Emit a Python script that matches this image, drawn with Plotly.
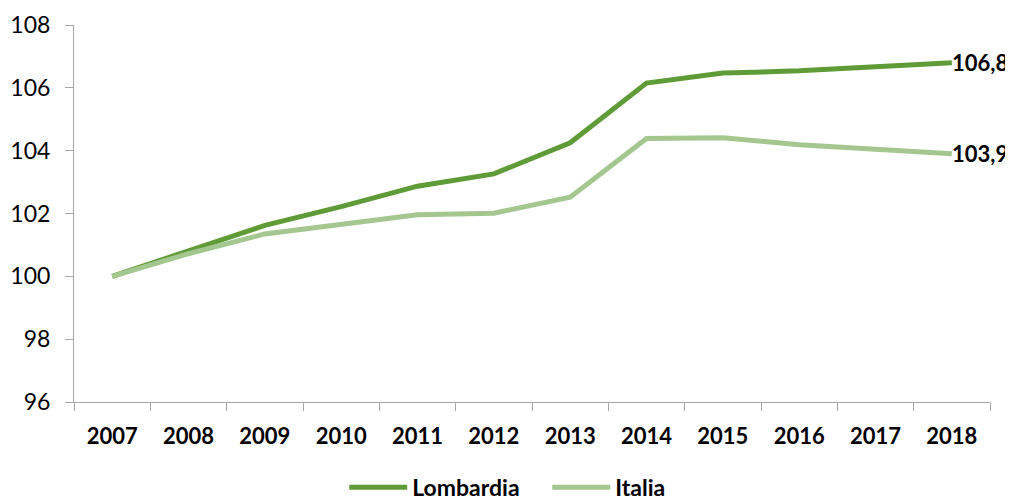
import plotly.graph_objects as go

years = ["2007", "2008", "2009", "2010", "2011", "2012", "2013", "2014", "2015", "2016", "2017", "2018"]
lombardia = [100.0, 100.8, 101.62, 102.22, 102.87, 103.26, 104.25, 106.15, 106.47, 106.54, 106.65, 106.8]
italia = [100.0, 100.72, 101.35, 101.66, 101.96, 102.01, 102.52, 104.39, 104.41, 104.19, 104.05, 103.9]
end_labels = ["106,8", "103,9"]

c_lom = "#5f9b37"
c_ita = "#a3c78e"
font = "Lato, Noto Sans, sans-serif"

fig = go.Figure()
fig.add_trace(go.Scatter(x=years, y=lombardia, mode="lines", name="<b>Lombardia</b>",
                         line=dict(color=c_lom, width=5)))
fig.add_trace(go.Scatter(x=years, y=italia, mode="lines", name="<b>Italia</b>",
                         line=dict(color=c_ita, width=5)))

last = len(years) - 1
for series, lab in zip([lombardia, italia], end_labels):
    fig.add_annotation(x=last, y=series[-1], xref="x", yref="y",
                       text="<b>" + lab + "</b>",
                       showarrow=False, xanchor="left", yanchor="middle", xshift=-2,
                       font=dict(size=22, color="#000000", family=font))

# page body has an 8px margin, so the figure is sized/offset to compensate
fig.update_layout(
    width=1005, height=493,
    margin=dict(l=66, r=23, t=17, b=99, autoexpand=False),
    plot_bgcolor="white", paper_bgcolor="white",
    font=dict(family=font, color="#000000", size=20),
    showlegend=True,
    legend=dict(orientation="h", x=0.295, xanchor="left", y=-0.226, yanchor="middle",
                font=dict(size=23, family=font), tracegroupgap=0, itemwidth=58,
                entrywidth=130),
)
fig.update_xaxes(type="category", range=[-0.5, 11.5], tickson="boundaries",
                 ticks="outside", ticklen=8, tickcolor="#a6a6a6",
                 showline=True, linecolor="#a6a6a6", linewidth=1,
                 showgrid=False, zeroline=False, automargin=False,
                 tickfont=dict(size=22, family=font), ticklabelstandoff=15,
                 tickvals=years, ticktext=["<b>" + y + "</b>" for y in years])
fig.update_yaxes(range=[96, 108], dtick=2, tick0=96,
                 ticks="outside", ticklen=8, tickcolor="#a6a6a6",
                 showline=True, linecolor="#a6a6a6", linewidth=1,
                 showgrid=False, zeroline=False, automargin=False,
                 tickfont=dict(size=23, family=font), ticklabelstandoff=10)

fig.write_html("out.html")
